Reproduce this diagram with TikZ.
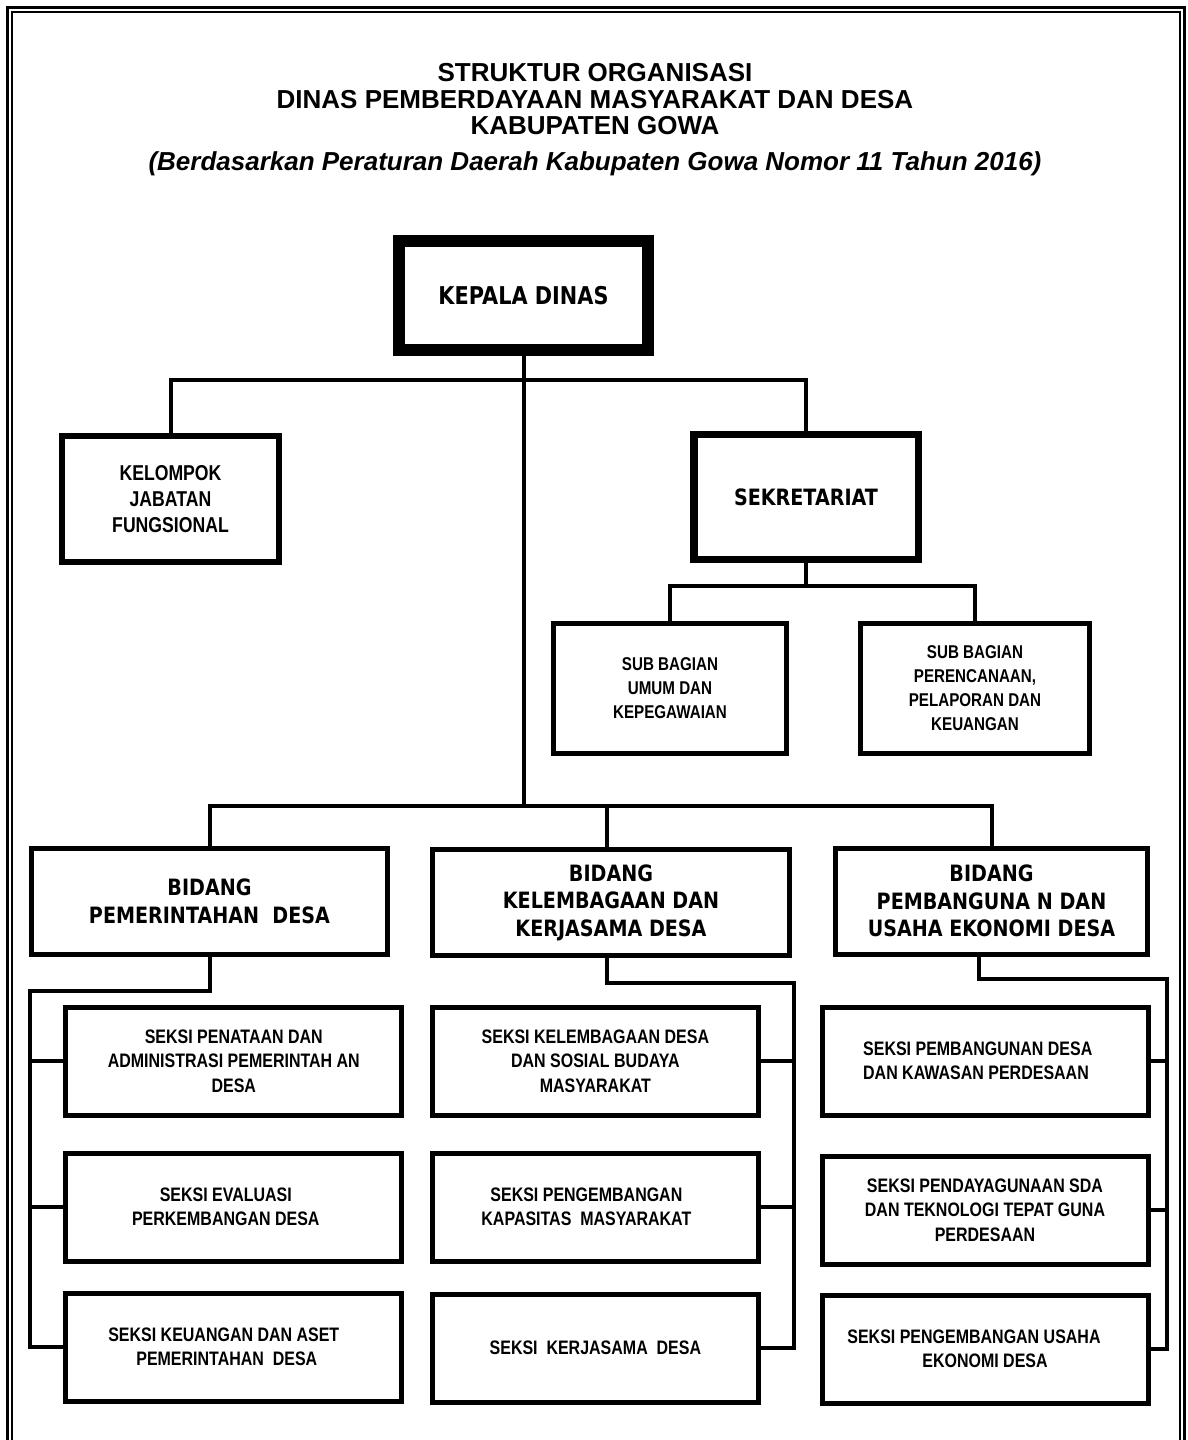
\documentclass[tikz,border=0pt]{standalone}
\usepackage{fontspec}
\setmainfont{Liberation Sans}
\newfontfamily\headfont{DejaVu Sans}[FakeStretch=0.85]
\newfontfamily\narrowfont{Liberation Sans}[FakeStretch=0.82]
\begin{document}
\begin{tikzpicture}[x=1pt,y=-1pt,
    orgbox/.style={draw, line width=5pt, inner sep=0pt, align=center},
    headbox/.style={orgbox, font=\headfont\bfseries\fontsize{22.5}{27.5}\selectfont},
    subbox/.style={orgbox, minimum width=233pt, minimum height=130pt, font=\narrowfont\bfseries\fontsize{18.5}{24}\selectfont},
    bidbox/.style={headbox, minimum height=106pt},
    seksibox/.style={orgbox, minimum height=108pt, font=\narrowfont\bfseries\fontsize{19.5}{24.5}\selectfont},
    judul/.style={anchor=base, font=\bfseries\fontsize{26}{30}\selectfont},
    conn/.style={line width=4pt}]
    \useasboundingbox (0,0) rectangle (1187,1440);
    \draw[line width=3pt] (7.5,1440) |- (1184.5,7.5) -- (1184.5,1440);
    \draw[line width=1.5pt] (12,1440) |- (1180,12) -- (1180,1440);

    \node[judul] (judul1) at (595,81) {STRUKTUR ORGANISASI};
    \node[judul] (judul2) at (595,108) {DINAS PEMBERDAYAAN MASYARAKAT DAN DESA};
    \node[judul] (judul3) at (595,134) {KABUPATEN GOWA};
    \node[judul, font=\bfseries\itshape\fontsize{26}{30}\selectfont] (judul4) at (595,170.5) {(Berdasarkan Peraturan Daerah Kabupaten Gowa Nomor 11 Tahun 2016)};

    \node[headbox, line width=12pt, minimum width=249pt, minimum height=109pt, font=\headfont\bfseries\fontsize{24.5}{28}\selectfont] (kepala) at (523.5,295.5) {KEPALA DINAS};
    \node[orgbox, line width=6.5pt, minimum width=217pt, minimum height=126pt, font=\narrowfont\bfseries\fontsize{21.5}{26}\selectfont] (kelompok) at (170.5,499) {KELOMPOK\\JABATAN\\FUNGSIONAL};
    \node[headbox, line width=7.5pt, minimum width=224.5pt, minimum height=125pt] (sekretariat) at (806,497) {SEKRETARIAT};
    \node[subbox] (subumum) at (670,688.5) {SUB BAGIAN\\UMUM DAN\\KEPEGAWAIAN};
    \node[subbox, minimum width=229pt] (subrencana) at (975,688.5) {SUB BAGIAN\\PERENCANAAN,\\PELAPORAN DAN\\KEUANGAN};

    \node[bidbox, minimum width=356pt] (bidpem) at (209.5,901.5) {BIDANG\\PEMERINTAHAN\ \ DESA};
    \node[bidbox, minimum width=357pt] (bidlem) at (611,902.5) {BIDANG\\KELEMBAGAAN DAN\\KERJASAMA DESA};
    \node[bidbox, minimum width=312pt] (bidpemb) at (991.5,901) {BIDANG\\PEMBANGUNA N DAN\\USAHA EKONOMI DESA};

    \node[seksibox, minimum width=336pt] (seksiA1) at (233.8,1061) {SEKSI PENATAAN DAN\\ADMINISTRASI PEMERINTAH AN\\DESA};
    \node[seksibox, minimum width=336pt] (seksiA2) at (233.8,1207) {SEKSI EVALUASI\hspace*{16pt}\\PERKEMBANGAN DESA\hspace*{16pt}};
    \node[seksibox, minimum width=336pt] (seksiA3) at (233.8,1347) {SEKSI KEUANGAN DAN ASET\hspace*{20pt}\\PEMERINTAHAN\ \ DESA\hspace*{14pt}};
    \node[seksibox, minimum width=325.7pt] (seksiB1) at (595.4,1061) {SEKSI KELEMBAGAAN DESA\\DAN SOSIAL BUDAYA\\MASYARAKAT};
    \node[seksibox, minimum width=325.7pt] (seksiB2) at (595.4,1207) {SEKSI PENGEMBANGAN\hspace*{18pt}\\KAPASITAS\ \ MASYARAKAT\hspace*{18pt}};
    \node[seksibox, minimum width=325.7pt] (seksiB3) at (595.4,1348) {SEKSI\ \ KERJASAMA\ \ DESA};
    \node[seksibox, minimum width=326pt, align=left] (seksiC1) at (985,1061) {SEKSI PEMBANGUNAN DESA\\DAN KAWASAN PERDESAAN\hspace*{18pt}};
    \node[seksibox, minimum width=326pt] (seksiC2) at (985,1210) {SEKSI PENDAYAGUNAAN SDA\\DAN TEKNOLOGI TEPAT GUNA\\PERDESAAN};
    \node[seksibox, minimum width=326pt] (seksiC3) at (985,1349) {SEKSI PENGEMBANGAN USAHA\hspace*{22pt}\\EKONOMI DESA};

    \coordinate (tophub) at (523.5,379.5);
    \coordinate (subhub) at (806,586);
    \coordinate (bidhub) at (523.5,806);
    \coordinate (railA) at (30,990.7);
    \coordinate (railB) at (794,982.7);
    \coordinate (railC) at (1166.7,979.3);

    \draw[conn] (kepala.south) -- (bidhub);
    \draw[conn] (kelompok.north) |- (tophub) -| (sekretariat.north);
    \draw[conn] (sekretariat.south) -- (subhub);
    \draw[conn] (subumum.north) |- (subhub) -| (subrencana.north);
    \draw[conn] (bidpem.north) |- (bidhub) -| (bidpemb.north);
    \draw[conn] ([xshift=-4pt]bidlem.north) -- ([xshift=-4pt]bidlem.north |- bidhub);

    \draw[conn] (bidpem.south) |- (railA) |- (seksiA3.west);
    \draw[conn] (seksiA1.west) -- (seksiA1.west -| railA);
    \draw[conn] (seksiA2.west) -- (seksiA2.west -| railA);
    \draw[conn] ([xshift=-4pt]bidlem.south) |- (railB) |- (seksiB3.east);
    \draw[conn] (seksiB1.east) -- (seksiB1.east -| railB);
    \draw[conn] (seksiB2.east) -- (seksiB2.east -| railB);
    \draw[conn] ([xshift=-12.5pt]bidpemb.south) |- (railC) |- (seksiC3.east);
    \draw[conn] (seksiC1.east) -- (seksiC1.east -| railC);
    \draw[conn] (seksiC2.east) -- (seksiC2.east -| railC);
\end{tikzpicture}
\end{document}
